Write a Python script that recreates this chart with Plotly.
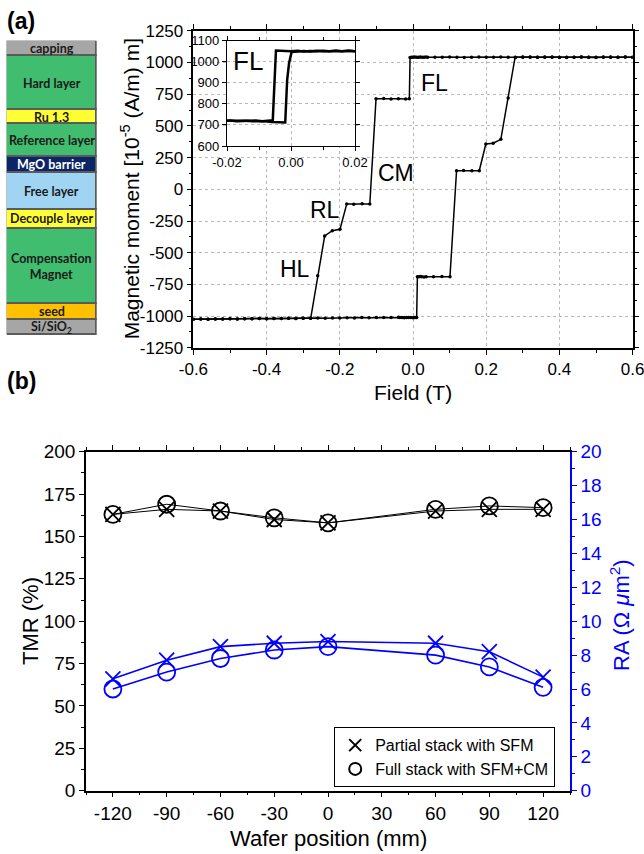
import plotly.graph_objects as go

FONT = "Liberation Sans, Arial, sans-serif"

# ---------------- Panel (a): layer stack ----------------
layer_names = ["Si/SiO<sub>2</sub>", "seed", "Compensation<br>Magnet", "Decouple layer",
               "Free layer", "MgO barrier", "Reference layer", "Ru 1.3", "Hard layer", "capping"]
layer_heights = [15.7, 15.3, 75.7, 19.0, 36.6, 16.0, 32.7, 14.0, 54.0, 15.3]
layer_colors = ["#a6a6a6", "#ffc000", "#41bd6f", "#ffff33", "#a0d4f3", "#0c2566",
                "#41bd6f", "#ffff33", "#41bd6f", "#a6a6a6"]
layer_text_colors = ["#1a1a1a", "#1a1a1a", "#1a1a1a", "#1a1a1a", "#1a1a1a", "#ffffff",
                     "#1a1a1a", "#1a1a1a", "#1a1a1a", "#1a1a1a"]

# ---------------- Panel (a): hysteresis loop ----------------
field_down = [0.60, 0.58, 0.56, 0.54, 0.52, 0.50, 0.48, 0.46, 0.44, 0.42, 0.40, 0.38, 0.36, 0.34,
              0.32, 0.30, 0.28, 0.26, 0.24, 0.22, 0.20, 0.18, 0.16, 0.14, 0.12, 0.10, 0.08, 0.06,
              0.04, 0.035, 0.03, 0.025, 0.02, 0.015, 0.010, 0.005, 0.000, -0.004, -0.008,
              -0.010, -0.020, -0.040, -0.060, -0.080, -0.101,
              -0.118, -0.139, -0.162, -0.181,
              -0.1995, -0.2205, -0.2413, -0.2604, -0.2795,
              -0.30, -0.32, -0.34, -0.36, -0.38, -0.40, -0.42, -0.44, -0.46, -0.48, -0.50,
              -0.52, -0.54, -0.56, -0.58, -0.60]
moment_down = [1042, 1043, 1041, 1043, 1042, 1040, 1042, 1043, 1041, 1042, 1040, 1043, 1042, 1041,
               1043, 1042, 1040, 1041, 1043, 1042, 1041, 1043, 1042, 1040, 1041, 1043, 1042, 1041,
               1042, 1043, 1041, 1042, 1043, 1042, 1041, 1043, 1042, 1041, 1040,
               714, 712, 715, 713, 716, 714,
               -116, -114, -117, -115,
               -315, -326, -368, -681, -1017,
               -1016, -1018, -1017, -1019, -1018, -1020, -1019, -1021, -1020, -1022, -1021,
               -1023, -1022, -1024, -1023, -1025]

field_up = [-0.60, -0.58, -0.56, -0.54, -0.52, -0.50, -0.48, -0.46, -0.44, -0.42, -0.40, -0.38,
            -0.36, -0.34, -0.32, -0.30, -0.28, -0.26, -0.24, -0.22, -0.20, -0.18, -0.16, -0.14,
            -0.12, -0.10, -0.08, -0.06, -0.04, -0.036, -0.030, -0.024, -0.018, -0.012, -0.006,
            0.000, 0.004, 0.008, 0.010, 0.012, 0.016, 0.020, 0.024, 0.030, 0.036, 0.056, 0.079,
            0.101, 0.119, 0.138, 0.161, 0.181, 0.199, 0.219, 0.240, 0.260, 0.279,
            0.30, 0.32, 0.34, 0.36, 0.38, 0.40, 0.42, 0.44, 0.46, 0.48, 0.50, 0.52, 0.54, 0.56,
            0.58, 0.60]
moment_up = [-1024, -1023, -1024, -1022, -1023, -1021, -1022, -1020, -1021, -1019, -1020, -1018,
             -1019, -1017, -1018, -1016, -1017, -1015, -1016, -1014, -1015, -1013, -1014, -1012,
             -1013, -1012, -1011, -1012, -1010, -1012, -1011, -1013, -1012, -1011, -1012,
             -1013, -1012, -1011, -1012, -689, -690, -688, -689, -691, -690, -689, -688,
             -689, 147, 148, 146, 147, 357, 363, 394, 720, 1042,
             1043, 1041, 1042, 1043, 1041, 1042, 1040, 1042, 1043, 1041, 1042, 1043, 1041, 1042,
             1043, 1041]

main_x_tickvals = [-0.6, -0.4, -0.2, 0.0, 0.2, 0.4, 0.6]
main_x_ticktext = ["-0.6", "-0.4", "-0.2", "0.0", "0.2", "0.4", "0.6"]
main_y_tickvals = [-1250, -1000, -750, -500, -250, 0, 250, 500, 750, 1000, 1250]
main_y_ticktext = ["-1250", "-1000", "-750", "-500", "-250", "0", "250", "500", "750", "1000", "1250"]

# ---------------- Panel (a): inset (FL minor loop) ----------------
inset_field_down = [0.020, 0.018, 0.016, 0.014, 0.012, 0.010, 0.008, 0.006, 0.004, 0.002, 0.000,
                    -0.002, -0.004, -0.0047, -0.0057, -0.007, -0.009, -0.011, -0.013, -0.015,
                    -0.017, -0.019, -0.020]
inset_moment_down = [1050, 1052, 1049, 1053, 1050, 1052, 1049, 1051, 1048, 1052, 1050,
                     1052, 1051, 1053, 722, 720, 718, 721, 719, 720, 718, 721, 720]
inset_field_up = [-0.020, -0.018, -0.016, -0.014, -0.012, -0.010, -0.008, -0.006, -0.004,
                  -0.0018, -0.0012, -0.0006, 0.0002, 0.002, 0.004, 0.006, 0.008, 0.010, 0.012,
                  0.014, 0.016, 0.018, 0.020]
inset_moment_up = [720, 721, 719, 720, 718, 719, 717, 714, 713, 712, 914, 994, 1046,
                   1049, 1051, 1048, 1052, 1050, 1049, 1051, 1050, 1052, 1050]
inset_x_tickvals = [-0.02, 0.0, 0.02]
inset_x_ticktext = ["-0.02", "0.00", "0.02"]

# ---------------- Panel (b) ----------------
wafer_pos = [-120, -90, -60, -30, 0, 60, 90, 120]
tmr_partial = [163, 166, 165, 160, 158, 165, 166, 166]
tmr_full = [163, 169, 165, 161, 158, 166, 168, 167]
ra_partial = [6.6, 7.7, 8.5, 8.7, 8.8, 8.7, 8.2, 6.7]
ra_full = [6.0, 7.0, 7.8, 8.3, 8.5, 8.0, 7.3, 6.1]
legend_names = ["Partial stack with SFM", "Full stack with SFM+CM"]
wafer_tickvals = [-120, -90, -60, -30, 0, 30, 60, 90, 120]
wafer_ticktext = ["-120", "-90", "-60", "-30", "0", "30", "60", "90", "120"]

W, H = 644, 854


def px_x(p):
    return p / W


def px_y(p):
    return 1 - p / H


fig = go.Figure()

# stack bars
for name, h, c in zip(layer_names, layer_heights, layer_colors):
    fig.add_trace(go.Bar(x=[0], y=[h], width=1, marker=dict(color=c, line=dict(color="#5a5a5a", width=1.5)),
                         xaxis="x4", yaxis="y5", showlegend=False, hoverinfo="skip"))

# hysteresis main
for fx, my in ((field_down, moment_down), (field_up, moment_up)):
    fig.add_trace(go.Scatter(x=fx, y=my, mode="lines+markers", xaxis="x", yaxis="y",
                             line=dict(color="black", width=1.5),
                             marker=dict(color="black", size=3.5), showlegend=False))
# inset
for fx, my in ((inset_field_down, inset_moment_down), (inset_field_up, inset_moment_up)):
    fig.add_trace(go.Scatter(x=fx, y=my, mode="lines", xaxis="x2", yaxis="y2",
                             line=dict(color="black", width=2.5), showlegend=False))

# panel b
fig.add_trace(go.Scatter(x=wafer_pos, y=tmr_partial, mode="lines+markers", xaxis="x3", yaxis="y3",
                         line=dict(color="black", width=1),
                         marker=dict(symbol="x-thin-open", size=15, color="black", line=dict(width=1.8, color="black")),
                         showlegend=False))
fig.add_trace(go.Scatter(x=wafer_pos, y=tmr_full, mode="lines+markers", xaxis="x3", yaxis="y3",
                         line=dict(color="black", width=1),
                         marker=dict(symbol="circle-open", size=17, color="black", line=dict(width=1.8)),
                         showlegend=False))
fig.add_trace(go.Scatter(x=wafer_pos, y=ra_partial, mode="lines+markers", xaxis="x3", yaxis="y4",
                         line=dict(color="#0000ff", width=1.6),
                         marker=dict(symbol="x-thin-open", size=15, color="#0000ff", line=dict(width=1.8, color="#0000ff")),
                         showlegend=False))
fig.add_trace(go.Scatter(x=wafer_pos, y=ra_full, mode="lines+markers", xaxis="x3", yaxis="y4",
                         line=dict(color="#0000ff", width=1.6),
                         marker=dict(symbol="circle-open", size=17, color="#0000ff", line=dict(width=1.8)),
                         showlegend=False))
# legend entries
fig.add_trace(go.Scatter(x=[None], y=[None], mode="markers", xaxis="x3", yaxis="y3", name=legend_names[0],
                         marker=dict(symbol="x-thin-open", size=14, color="black", line=dict(width=1.5, color="black"))))
fig.add_trace(go.Scatter(x=[None], y=[None], mode="markers", xaxis="x3", yaxis="y3", name=legend_names[1],
                         marker=dict(symbol="circle-open", size=14, color="black", line=dict(width=1.5))))

axis_common = dict(showline=True, linecolor="black", linewidth=1.5, ticks="outside", ticklen=5,
                   tickwidth=1.2, tickcolor="black", zeroline=False, automargin=False,
                   ticklabeloverflow="allow",
                   tickfont=dict(family=FONT, color="black"))

grid_kw = dict(showgrid=True, gridcolor="#b8b8b8", gridwidth=1, griddash="dot")

stack_total = sum(layer_heights)

fig.update_layout(
    template="none",
    width=W, height=H,
    margin=dict(l=0, r=0, t=0, b=0),
    paper_bgcolor="white", plot_bgcolor="white",
    barmode="stack", bargap=0,
    font=dict(family=FONT, color="black"),
    xaxis=dict(domain=[px_x(193.4), px_x(632.6)], anchor="y", range=[-0.6, 0.6],
               tickmode="array", tickvals=main_x_tickvals, ticktext=main_x_ticktext,
               mirror="ticks", minor=dict(dtick=0.1, tick0=0, ticks="outside", ticklen=3, tickcolor="black"),
               **grid_kw, **{**axis_common, "tickfont": dict(family=FONT, size=17, color="black")}),
    yaxis=dict(domain=[px_y(347.8), px_y(30.8)], anchor="x", range=[-1250, 1250],
               tickmode="array", tickvals=main_y_tickvals, ticktext=main_y_ticktext,
               mirror="ticks", minor=dict(dtick=125, tick0=0, ticks="outside", ticklen=3, tickcolor="black"),
               **grid_kw, **{**axis_common, "tickfont": dict(family=FONT, size=17, color="black")}),
    xaxis2=dict(domain=[px_x(227), px_x(355)], anchor="y2", range=[-0.02, 0.02],
                tickmode="array", tickvals=inset_x_tickvals, ticktext=inset_x_ticktext,
                mirror="ticks", minor=dict(dtick=0.01, tick0=0, ticks="outside", ticklen=3, tickcolor="black"),
                **grid_kw, **{**axis_common, "ticklen": 4, "linewidth": 1.2, "tickfont": dict(family=FONT, size=13, color="black")}),
    yaxis2=dict(domain=[px_y(146), px_y(40.6)], anchor="x2", range=[600, 1100], dtick=100, tick0=0,
                mirror="ticks", **grid_kw,
                **{**axis_common, "ticklen": 4, "linewidth": 1.2, "tickfont": dict(family=FONT, size=13, color="black")}),
    xaxis3=dict(domain=[px_x(86), px_x(570)], anchor="y3", range=[-135, 135],
                tickmode="array", tickvals=wafer_tickvals, ticktext=wafer_ticktext,
                mirror="ticks", showgrid=False, minor=dict(dtick=15, tick0=0, ticks="outside", ticklen=3, tickcolor="black"),
                **{**axis_common, "tickfont": dict(family=FONT, size=19, color="black")}),
    yaxis3=dict(domain=[px_y(790.7), px_y(451.7)], anchor="x3", range=[0, 200], dtick=25, tick0=0,
                showgrid=False, minor=dict(dtick=12.5, ticks="outside", ticklen=3, tickcolor="black"),
                **{**axis_common, "tickfont": dict(family=FONT, size=19, color="black")}),
    yaxis4=dict(overlaying="y3", anchor="x3", side="right", range=[0, 20], dtick=2, tick0=0,
                showgrid=False, minor=dict(dtick=1, ticks="outside", ticklen=3, tickcolor="#0000ff"),
                **{**axis_common, "linecolor": "#0000ff", "tickcolor": "#0000ff",
                   "tickfont": dict(family=FONT, size=19, color="#0000ff")}),
    xaxis4=dict(domain=[px_x(6.7), px_x(96.7)], anchor="y5", range=[-0.5, 0.5], visible=False, fixedrange=True),
    yaxis5=dict(domain=[px_y(335), px_y(40.7)], anchor="x4", range=[0, stack_total], visible=False, fixedrange=True),
    legend=dict(x=px_x(334), y=px_y(727), xanchor="left", yanchor="top", bgcolor="white",
                bordercolor="black", borderwidth=1.2, font=dict(family=FONT, size=16, color="black"),
                tracegroupgap=0, itemsizing="constant", traceorder="normal"),
    showlegend=True,
)

annotations = []
# layer labels
base = 0.0
for name, h, tc in zip(layer_names, layer_heights, layer_text_colors):
    annotations.append(dict(x=0, y=base + h / 2, xref="x4", yref="y5", text="<b>" + name + "</b>",
                            xanchor="center", yanchor="middle", showarrow=False,
                            font=dict(family="Lato, sans-serif", size=12.5, color=tc)))
    base += h

# panel letters
annotations.append(dict(x=px_x(5), y=px_y(6), xref="paper", yref="paper", xanchor="left", yanchor="top",
                        text="<b>(a)</b>", showarrow=False, font=dict(family=FONT, size=23, color="black")))
annotations.append(dict(x=px_x(5), y=px_y(366), xref="paper", yref="paper", xanchor="left", yanchor="top",
                        text="<b>(b)</b>", showarrow=False, font=dict(family=FONT, size=23, color="black")))


def title_ann(text, xp, yp, size, color="black", angle=0):
    return dict(x=px_x(xp), y=px_y(yp), xref="paper", yref="paper", xanchor="center", yanchor="middle",
                textangle=angle, text=text, showarrow=False, font=dict(family=FONT, size=size, color=color))


annotations.append(title_ann("Field (T)", 413, 393, 21))
annotations.append(title_ann("Magnetic moment [10<sup>-5</sup> (A/m) m]", 130, 189.3, 21, angle=-90))
annotations.append(title_ann("Wafer position (mm)", 328, 838, 22))
annotations.append(title_ann("TMR (%)", 30, 621, 22, angle=-90))
annotations.append(title_ann("RA (Ω <i>μ</i>m<sup>2</sup>)", 620, 615, 22, color="#0000ff", angle=-90))

# curve labels
for txt, fx, my in (("FL", 0.0588, 840), ("CM", -0.047, 126), ("RL", -0.240, -163), ("HL", -0.322, -631)):
    annotations.append(dict(x=fx, y=my, xref="x", yref="y", text=txt, showarrow=False,
                            xanchor="center", yanchor="middle",
                            font=dict(family=FONT, size=23, color="black")))
annotations.append(dict(x=-0.0133, y=1001, xref="x2", yref="y2", text="FL", showarrow=False,
                        xanchor="center", yanchor="middle",
                        font=dict(family=FONT, size=26, color="black")))

fig.update_layout(annotations=annotations)

fig.write_html("out.html", include_plotlyjs=True, config={"displayModeBar": False},
               post_script="document.body.style.margin='0';document.body.style.overflow='hidden';")
